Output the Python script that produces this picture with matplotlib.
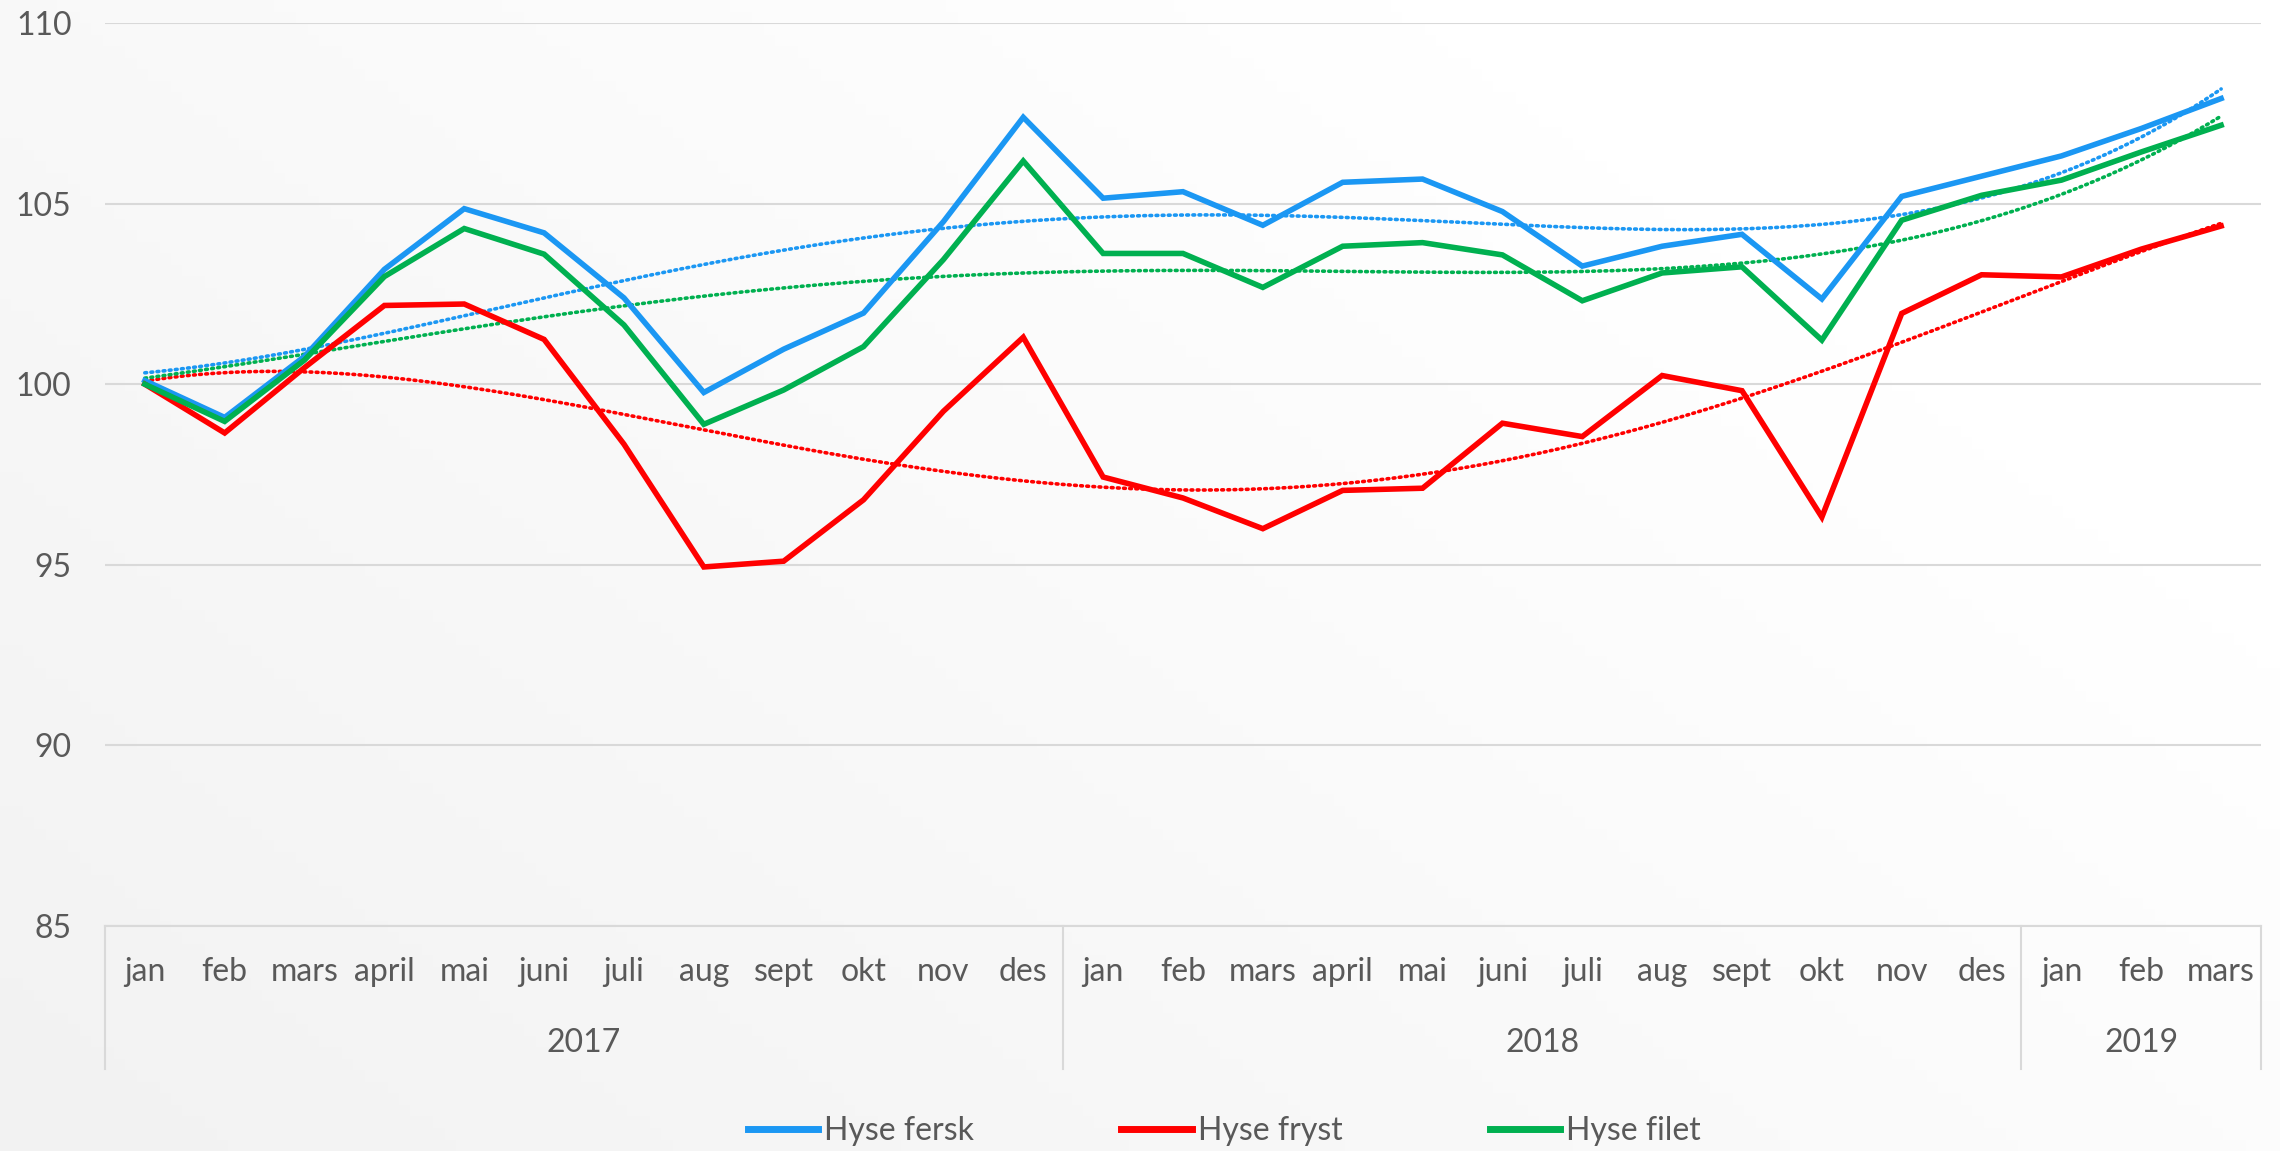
#! /usr/bin/env python3

import numpy as np
from matplotlib import pyplot as plt
from matplotlib.lines import Line2D
from matplotlib.colors import LinearSegmentedColormap

plt.rcParams['font.family'] = ['Lato', 'DejaVu Sans']
plt.rcParams['font.size'] = 23

months = ['jan', 'feb', 'mars', 'april', 'mai', 'juni', 'juli', 'aug', 'sept', 'okt', 'nov', 'des',
          'jan', 'feb', 'mars', 'april', 'mai', 'juni', 'juli', 'aug', 'sept', 'okt', 'nov', 'des',
          'jan', 'feb', 'mars']
years = ['2017', '2018', '2019']
year_len = [12, 12, 3]

hyse_fersk = [100.1, 99.08, 100.77, 103.18, 104.86, 104.19, 102.39, 99.77, 100.97, 101.97, 104.5, 107.39,
              105.15, 105.33, 104.40, 105.59, 105.68, 104.78, 103.27, 103.82, 104.15, 102.36, 105.20, 105.76,
              106.32, 107.08, 107.91]
hyse_fryst = [100.0, 98.65, 100.46, 102.18, 102.22, 101.24, 98.34, 94.94, 95.10, 96.80, 99.25, 101.30,
              97.43, 96.85, 96.0, 97.06, 97.12, 98.92, 98.55, 100.24, 99.82, 96.32, 101.96, 103.03,
              102.97, 103.74, 104.38]
hyse_filet = [100.0, 98.97, 100.67, 102.98, 104.31, 103.6, 101.64, 98.89, 99.84, 101.04, 103.45, 106.18,
              103.62, 103.62, 102.68, 103.82, 103.92, 103.58, 102.31, 103.08, 103.25, 101.22, 104.54, 105.23,
              105.65, 106.43, 107.17]

series = {
    'Hyse fersk': (hyse_fersk, '#1b97f3'),
    'Hyse fryst': (hyse_fryst, '#ff0000'),
    'Hyse filet': (hyse_filet, '#00b050'),
}
trend_order = 4
txt_col = '#595959'
grid_col = '#d9d9d9'

fig = plt.figure(figsize=(22.8, 11.51), dpi=100)

# soft diagonal background gradient
bg = fig.add_axes([0, 0, 1, 1], zorder=-10)
gx, gy = np.meshgrid(np.linspace(0, 1, 200), np.linspace(0, 1, 100))
g = np.clip((gx * 0.6 + gy * 0.4) * 1.3, 0, 1)
cmap = LinearSegmentedColormap.from_list('bg', ['#f2f2f2', '#ffffff'])
bg.imshow(g, cmap=cmap, origin='lower', aspect='auto', extent=[0, 1, 0, 1])
bg.axis('off')

ax = fig.add_axes([0.046, 0.1955, 0.9457, 0.7845])
ax.patch.set_alpha(0)
x = np.arange(len(months))

for name, (vals, col) in series.items():
    ax.plot(x, vals, color=col, lw=4.0, solid_joinstyle='miter', label=name, zorder=3)
    coef = np.polyfit(x, vals, trend_order)
    xs = np.linspace(0, len(months) - 1, 300)
    ax.plot(xs, np.polyval(coef, xs), color=col, lw=2.6, ls=(0, (0.5, 1.2)),
            dash_capstyle='round', zorder=2)

ax.set_xlim(-0.5, len(months) - 0.5)
ax.set_ylim(85, 110)
ax.set_yticks([85, 90, 95, 100, 105, 110])
ax.yaxis.grid(True, color=grid_col, lw=1.5)
ax.set_axisbelow(True)
for s in ['top', 'right', 'left']:
    ax.spines[s].set_visible(False)
ax.spines['bottom'].set_color(grid_col)
ax.spines['bottom'].set_linewidth(1.5)
ax.tick_params(axis='y', length=0, pad=24, labelcolor=txt_col, labelsize=23)
ax.tick_params(axis='x', length=0, pad=22, labelcolor=txt_col, labelsize=23)
ax.set_xticks(x)
ax.set_xticklabels(months)

# year row + separators
trans = ax.get_xaxis_transform()
start = 0
seps = [-0.5]
for yr, n in zip(years, year_len):
    ax.text(start + (n - 1) / 2, -0.13, yr, transform=trans, ha='center', va='center',
            color=txt_col, fontsize=23)
    start += n
    seps.append(start - 0.5)
for s in seps:
    ax.plot([s, s], [0, -0.158], transform=trans, color=grid_col, lw=1.5, clip_on=False)

handles = [Line2D([], [], color=c, lw=5) for _, c in series.values()]
fig.legend(handles, list(series.keys()), loc='center', bbox_to_anchor=(0.537, 0.017), ncol=3,
           frameon=False, handlelength=2.2, handletextpad=0.2, columnspacing=4.6,
           labelcolor=txt_col, fontsize=23)

fig.savefig('out.png', dpi=100)
